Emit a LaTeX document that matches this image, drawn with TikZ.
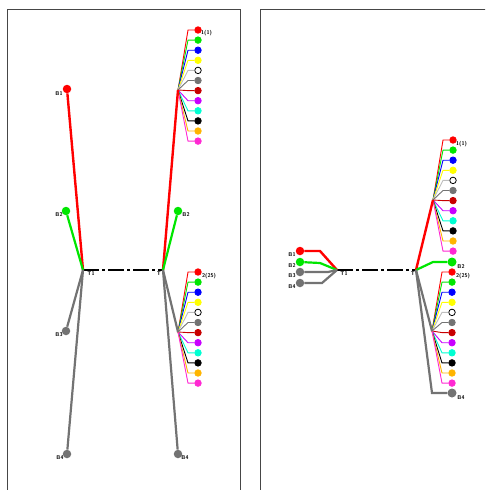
\documentclass[tikz,border=0pt]{standalone}
\usetikzlibrary{calc}
\definecolor{kred}{RGB}{255,0,0}
\definecolor{kgreen}{RGB}{0,230,0}
\definecolor{kblue}{RGB}{0,0,255}
\definecolor{kyellow}{RGB}{255,255,0}
\definecolor{ksilver}{RGB}{190,190,190}
\definecolor{kgray}{RGB}{115,115,115}
\definecolor{kdarkred}{RGB}{200,0,0}
\definecolor{kpurple}{RGB}{200,0,255}
\definecolor{kcyan}{RGB}{0,255,210}
\definecolor{kblack}{RGB}{0,0,0}
\definecolor{korange}{RGB}{255,180,0}
\definecolor{kpink}{RGB}{255,40,210}
\definecolor{kwhite}{RGB}{255,255,255}
\definecolor{panelc}{RGB}{70,70,70}
\tikzset{
  panel/.style={draw=panelc, line width=1pt},
  fdot/.style={circle, inner sep=0pt, minimum size=6.5pt},
  bdot/.style={circle, inner sep=0pt, minimum size=8.5pt},
  fanline/.style={line width=0.9pt},
  redl/.style={draw=kred, line width=2.4pt},
  greenl/.style={draw=kgreen, line width=2.2pt},
  grayl/.style={draw=kgray, line width=2.2pt},
  tie/.style={draw=black, line width=2pt, dash pattern=on 16pt off 3pt on 3pt off 3pt},
  lbl/.style={font=\fontsize{5.5}{6}\selectfont\bfseries\sffamily, inner sep=0pt},
}
\newcommand{\myfan}[4]{%
  \coordinate (#1f) at (#2,#3);
  \foreach \lc/\fc/\dc [count=\i from 0] in {kred/kred/kred,kgreen/kgreen/kgreen,kblue/kblue/kblue,kyellow/kyellow/kyellow,ksilver/kwhite/kblack,kgray/kgray/kgray,kdarkred/kdarkred/kdarkred,kpurple/kpurple/kpurple,kcyan/kcyan/kcyan,kblack/kblack/kblack,korange/korange/korange,kpink/kpink/kpink} {
    \node[fdot, fill=\fc, draw=\dc, line width=0.8pt] (#1d\i) at (#2+20, #4+\i*10.1) {};
    \draw[fanline, draw=\lc] (#1f) -- (#2+10, #4+\i*10.1+0.01) -- (#1d\i);
  }
}
\begin{document}
\begin{tikzpicture}[x=1pt,y=-1pt]
\useasboundingbox (0,0) rectangle (485,490);
\clip (0,0) rectangle (485,490);
\draw[panel] (7,500) -- (7,9) -- (240,9) -- (240,500);
\draw[panel] (260,500) -- (260,9) -- (500,9);

% ---------- left panel ----------
\coordinate (L1) at (83,270);
\coordinate (R1) at (163,270);
\draw[tie] (L1) -- (R1);
\node[lbl] (t1a) at (91,274) {T1};
\node[lbl] (t1b) at (159,274) {T};

\node[bdot, fill=kred] (lb1) at (67,89) {};
\node[bdot, fill=kgreen] (lb2) at (66,211) {};
\node[bdot, fill=kgray] (lb3) at (66,331) {};
\node[bdot, fill=kgray] (lb4) at (67,454) {};
\draw[redl] (L1) -- (lb1);
\draw[greenl] (L1) -- (lb2);
\draw[grayl] (L1) -- (lb3);
\draw[grayl] (L1) -- (lb4);
\node[lbl] (llb1) at (59,94) {B1};
\node[lbl] (llb2) at (59,215) {B2};
\node[lbl] (llb3) at (59,335) {B3};
\node[lbl] (llb4) at (60,458) {B4};

\myfan{lu}{178}{90}{30}
\myfan{ll}{178}{332}{272}
\draw[redl] (R1) -- (luf);
\node[bdot, fill=kgreen] (rb2) at (178,211) {};
\draw[greenl] (R1) -- (rb2);
\node[bdot, fill=kgray] (rb4) at (178,454) {};
\draw[grayl] (R1) -- (llf);
\draw[grayl] (R1) -- (rb4);
\node[lbl, anchor=west] (lab1) at (201,33) {1(1)};
\node[lbl, anchor=west] (lab2) at (202,276) {2(25)};
\node[lbl] (lrb2) at (186,215) {B2};
\node[lbl] (lrb4) at (185,458) {B4};

% ---------- right panel ----------
\coordinate (L2) at (337,270);
\coordinate (R2) at (416,270);
\draw[tie] (L2) -- (R2);
\node[lbl] (t2a) at (344,274) {T1};
\node[lbl] (t2b) at (413,274) {T};

\node[bdot, fill=kred] (sb1) at (300,251) {};
\node[bdot, fill=kgreen] (sb2) at (300,262) {};
\node[bdot, fill=kgray] (sb3) at (300,272) {};
\node[bdot, fill=kgray] (sb4) at (300,283) {};
\draw[redl] (sb1) -- (320,251) -- (L2);
\draw[greenl] (sb2) -- (320,263) -- (L2);
\draw[grayl] (sb3) -- (328,272) -- (L2);
\draw[grayl] (sb4) -- (322,283) -- (L2);
\node[lbl] (slb1) at (292,255) {B1};
\node[lbl] (slb2) at (292,266) {B2};
\node[lbl] (slb3) at (292,276) {B3};
\node[lbl] (slb4) at (292,287) {B4};

\myfan{ru}{433}{200}{140}
\myfan{rl}{432}{331}{272}
\draw[redl] (R2) -- (ruf);
\node[bdot, fill=kgreen, minimum size=9pt] (sr2) at (452,262) {};
\draw[greenl] (R2) -- (433,262) -- (sr2);
\node[bdot, fill=kgray, minimum size=9pt] (sr4) at (452,393) {};
\draw[grayl] (R2) -- (rlf);
\draw[grayl] (R2) -- (432,393) -- (sr4);
\node[lbl, anchor=west] (rab1) at (456,144) {1(1)};
\node[lbl, anchor=west] (rab2) at (456,276) {2(25)};
\node[lbl] (srb2) at (461,267) {B2};
\node[lbl] (srb4) at (461,398) {B4};
\end{tikzpicture}
\end{document}
